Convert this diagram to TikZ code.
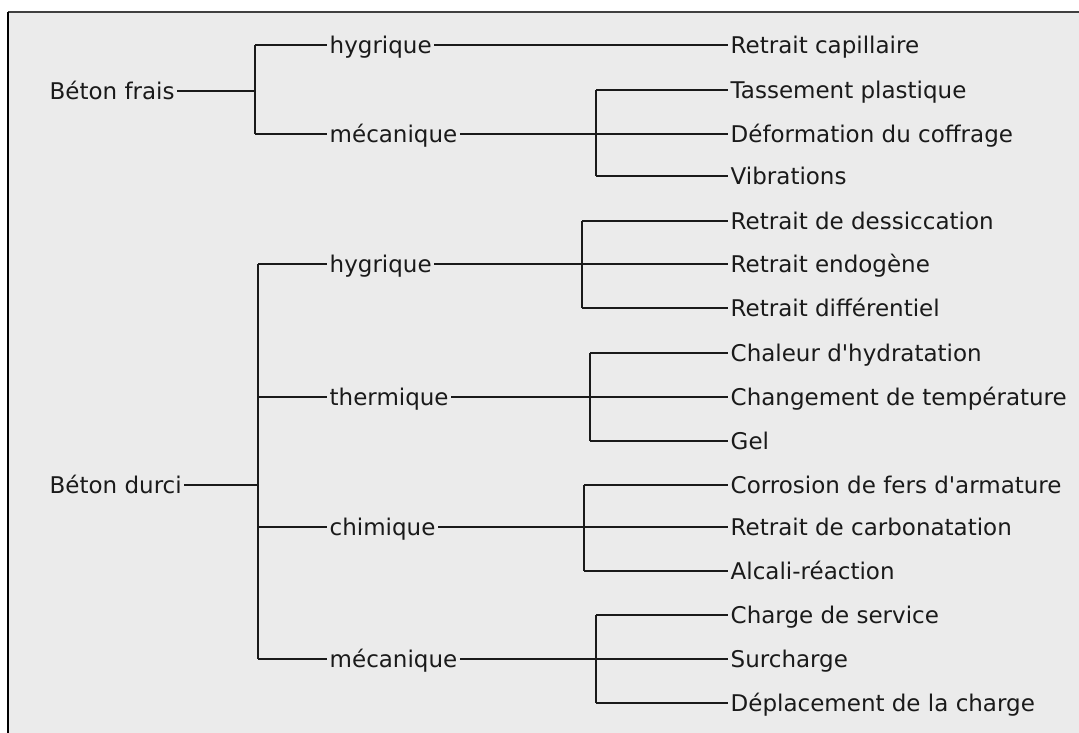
\documentclass[tikz,border=0pt]{standalone}
\usepackage{fontspec}
\setmainfont{DejaVu Sans}[Ligatures=TeXOff]
\definecolor{bg}{HTML}{EBEBEB}
\definecolor{ln}{HTML}{1A1A1A}
\begin{document}
\begin{tikzpicture}[x=1pt,y=-1pt,
  lbl/.style={inner xsep=2.5pt,inner ysep=0pt,text height=16.8pt,text depth=0pt,font=\fontsize{23}{28}\selectfont,text=ln},
  leaf/.style={lbl,anchor=west},
  mid/.style={lbl,anchor=west},
  root/.style={lbl,anchor=west},
  edge/.style={draw=ln,line width=1.5pt},
  ]
\useasboundingbox (0,0) rectangle (1079,733);
\fill[bg] (8,12) rectangle (1079,733);
\draw[line width=2pt,draw=black!75] (8,12) -- (1079,12);
\draw[line width=2pt,draw=black] (8,12) -- (8,733);

% ---- Béton frais ----
\node[root] (bf) at (47,91) {Béton frais};
\node[mid] (fh) at (327,45) {hygrique};
\node[mid] (fm) at (327,134) {mécanique};
\node[leaf] (rc) at (728,45) {Retrait capillaire};
\node[leaf] (tp) at (728,90) {Tassement plastique};
\node[leaf] (dc) at (728,134) {Déformation du coffrage};
\node[leaf] (vb) at (728,176) {Vibrations};
\coordinate (j1) at (255,91);
\coordinate (j2) at (596,134);

\draw[edge] (bf.east) -- (j1);
\draw[edge] (j1 |- fh.west) -- (j1 |- fm.west);
\draw[edge] (j1 |- fh.west) -- (fh.west);
\draw[edge] (j1 |- fm.west) -- (fm.west);
\draw[edge] (fh.east) -- (rc.west);
\draw[edge] (fm.east) -- (j2);
\draw[edge] (j2 |- tp.west) -- (j2 |- vb.west);
\draw[edge] (j2 |- tp.west) -- (tp.west);
\draw[edge] (j2 |- dc.west) -- (dc.west);
\draw[edge] (j2 |- vb.west) -- (vb.west);

% ---- Béton durci ----
\node[root] (bd) at (47,485) {Béton durci};
\node[mid] (dh) at (327,264) {hygrique};
\node[mid] (dt) at (327,397) {thermique};
\node[mid] (dch) at (327,527) {chimique};
\node[mid] (dm) at (327,659) {mécanique};

\node[leaf] (l1) at (728,221) {Retrait de dessiccation};
\node[leaf] (l2) at (728,264) {Retrait endogène};
\node[leaf] (l3) at (728,308) {Retrait différentiel};
\node[leaf] (l4) at (728,353) {Chaleur d'hydratation};
\node[leaf] (l5) at (728,397) {Changement de température};
\node[leaf] (l6) at (728,441) {Gel};
\node[leaf] (l7) at (728,485) {Corrosion de fers d'armature};
\node[leaf] (l8) at (728,527) {Retrait de carbonatation};
\node[leaf] (l9) at (728,571) {Alcali-réaction};
\node[leaf] (l10) at (728,615) {Charge de service};
\node[leaf] (l11) at (728,659) {Surcharge};
\node[leaf] (l12) at (728,703) {Déplacement de la charge};

\coordinate (k0) at (258,485);
\coordinate (k1) at (582,264);
\coordinate (k2) at (590,397);
\coordinate (k3) at (584,527);
\coordinate (k4) at (596,659);

\draw[edge] (bd.east) -- (k0);
\draw[edge] (k0 |- dh.west) -- (k0 |- dm.west);
\foreach \n in {dh,dt,dch,dm} \draw[edge] (k0 |- \n.west) -- (\n.west);

\draw[edge] (dh.east) -- (k1);
\draw[edge] (k1 |- l1.west) -- (k1 |- l3.west);
\foreach \n in {l1,l2,l3} \draw[edge] (k1 |- \n.west) -- (\n.west);

\draw[edge] (dt.east) -- (k2);
\draw[edge] (k2 |- l4.west) -- (k2 |- l6.west);
\foreach \n in {l4,l5,l6} \draw[edge] (k2 |- \n.west) -- (\n.west);

\draw[edge] (dch.east) -- (k3);
\draw[edge] (k3 |- l7.west) -- (k3 |- l9.west);
\foreach \n in {l7,l8,l9} \draw[edge] (k3 |- \n.west) -- (\n.west);

\draw[edge] (dm.east) -- (k4);
\draw[edge] (k4 |- l10.west) -- (k4 |- l12.west);
\foreach \n in {l10,l11,l12} \draw[edge] (k4 |- \n.west) -- (\n.west);
\end{tikzpicture}
\end{document}
